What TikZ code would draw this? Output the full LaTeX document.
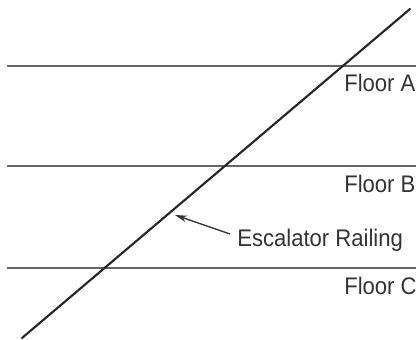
\documentclass[tikz,border=0pt]{standalone}
\usepackage{fontspec}
\setmainfont[FakeStretch=0.92]{Liberation Sans}
\usetikzlibrary{arrows.meta}

\begin{document}
\begin{tikzpicture}[x=0.75pt, y=-0.75pt, floor/.style = {draw=black!60, line width=1.6pt}, rail/.style = {draw=black!85, line width=1.6pt, line cap=round}, label/.style = {inner sep=0pt, anchor=base west, text=black!80, font=\fontsize{18}{20}\selectfont}]
            \useasboundingbox (0,0) rectangle (416,339);
            \clip (0,0) rectangle (416,339);
            % floors
            \coordinate (a1) at (7,66);
            \coordinate (a2) at (420,66);
            \coordinate (b1) at (7,166);
            \coordinate (b2) at (420,166);
            \coordinate (c1) at (7,268);
            \coordinate (c2) at (420,268);
            \draw[floor] (a1) -- (a2);
            \draw[floor] (b1) -- (b2);
            \draw[floor] (c1) -- (c2);
            \node[label] (floorA) at (344,91) {Floor A};
            \node[label] (floorB) at (344,192) {Floor B};
            \node[label] (floorC) at (344,294) {Floor C};
            % escalator
            \coordinate (bottom) at (22,338);
            \coordinate (top) at (410,9);
            \draw[rail] (bottom) -- (top);
            \node[label] (railing) at (237,246) {Escalator Railing};
            \coordinate (tail) at (230,234);
            \coordinate (tip) at (175,215);
            \draw[-{Stealth[length=9pt,width=5pt]}, line width=1pt, black!80] (tail) -- (tip);
        \end{tikzpicture}
\end{document}
